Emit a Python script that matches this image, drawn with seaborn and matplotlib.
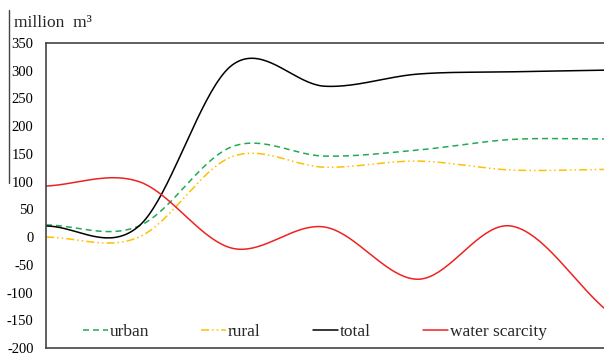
import numpy as np
import matplotlib
matplotlib.use("Agg")
import matplotlib.pyplot as plt
from matplotlib.lines import Line2D
import pandas as pd
import seaborn as sns

# values read at the 7 (unlabelled) x positions
steps = [0, 1, 2, 3, 4, 5, 6]
urban = [22, 20, 163, 146, 157, 176, 177]
rural = [0, 0, 145, 126, 137, 121, 122]
total = [20, 20, 310, 272, 294, 298, 301]
water_scarcity = [92, 100, -20, 18, -76, 20, -128]

y_ticks = list(range(-200, 351, 50))
unit_label = "million  m\u00b3"


def smooth(xs, ys, n=40):
    """Catmull-Rom style smoothing, like a spreadsheet 'smoothed line'."""
    xs = np.asarray(xs, float)
    ys = np.asarray(ys, float)
    m = np.empty_like(ys)
    m[1:-1] = (ys[2:] - ys[:-2]) / 2
    m[0] = ys[1] - ys[0]
    m[-1] = ys[-1] - ys[-2]
    out_x, out_y = [], []
    for i in range(len(xs) - 1):
        t = np.linspace(0, 1, n, endpoint=False)
        h00 = 2 * t**3 - 3 * t**2 + 1
        h10 = t**3 - 2 * t**2 + t
        h01 = -2 * t**3 + 3 * t**2
        h11 = t**3 - t**2
        out_x.extend(xs[i] + t * (xs[i + 1] - xs[i]))
        out_y.extend(h00 * ys[i] + h10 * m[i] + h01 * ys[i + 1] + h11 * m[i + 1])
    out_x.append(xs[-1])
    out_y.append(ys[-1])
    return np.array(out_x), np.array(out_y)


sns.set_style("white")
plt.rcParams["font.family"] = ["Liberation Serif", "DejaVu Serif"]
plt.rcParams["lines.scale_dashes"] = False
plt.rcParams["axes.unicode_minus"] = False

fig = plt.figure(figsize=(6.04, 3.53), dpi=100)
ax = fig.add_axes([46 / 604, 5 / 353, 1 - 46 / 604, 305 / 353])

series = [
    ("urban", urban, "#22AA55", (0, (4.3, 2.9))),
    ("rural", rural, "#FFC000", (0, (5.8, 2.2, 1.1, 2.2, 1.1, 2.2))),
    ("total", total, "black", "-"),
    ("water scarcity", water_scarcity, "#EE2222", "-"),
]
for name, vals, col, ls in series:
    sx, sy = smooth(steps, vals)
    sns.lineplot(x=sx, y=sy, color=col, linestyle=ls, linewidth=1.1,
                 label=name, ax=ax, sort=False)

ax.set_xlim(0, 6)
ax.set_ylim(-200, 350)
ax.set_yticks(y_ticks)
ax.set_xticks([])
ax.tick_params(axis="y", length=0, pad=9, labelsize=10.5, labelcolor="black")
for side in ["left", "top", "bottom"]:
    ax.spines[side].set_color("#444444")
    ax.spines[side].set_linewidth(1.2)
ax.spines["right"].set_visible(False)

ax.legend(loc="center", bbox_to_anchor=(0.521, 0.0595),
          bbox_transform=fig.transFigure, ncol=4, frameon=False,
          fontsize=12.5, handlelength=1.45, handletextpad=0.1,
          columnspacing=3.0, borderpad=0)

fig.text(14 / 604, (353 - 27) / 353, unit_label, fontsize=12.5,
         va="baseline", ha="left")
fig.add_artist(Line2D([8.5 / 604, 8.5 / 604], [(353 - 10) / 353, (353 - 183) / 353],
                      color="#444444", linewidth=1.0, transform=fig.transFigure))

fig.savefig("out.png", dpi=100)
